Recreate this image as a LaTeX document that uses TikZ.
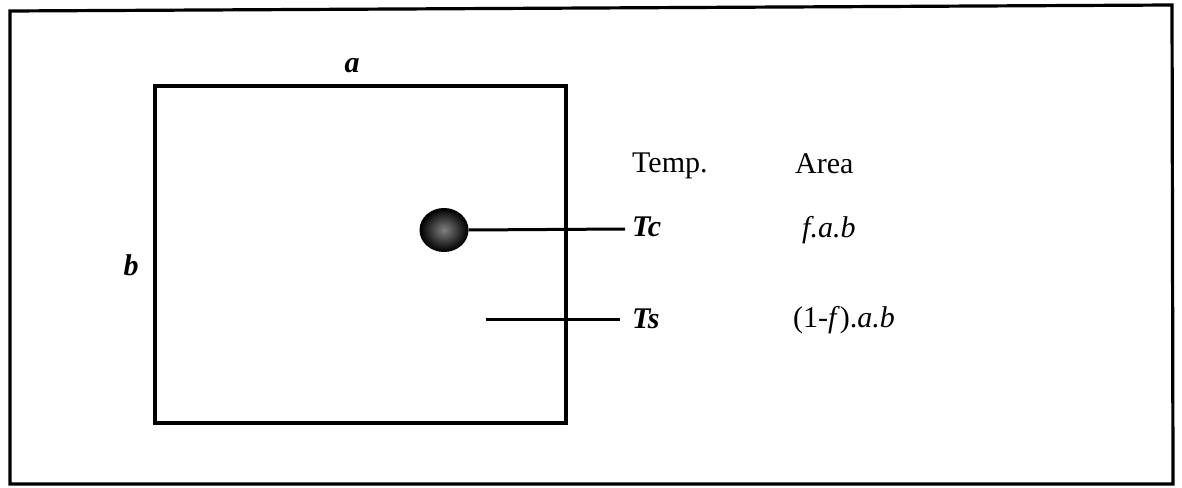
\documentclass[tikz,border=0pt]{standalone}
\usepackage{fontspec}
\setmainfont{Liberation Serif}
\usetikzlibrary{shapes.geometric}
\begin{document}
\begin{tikzpicture}[x=1pt,y=-1pt,
  frame/.style={line width=3.2pt, line join=miter},
  wire/.style={line width=3pt},
  lbl/.style={font=\fontsize{30}{34}\selectfont, inner sep=0pt, anchor=base west},
  ilbl/.style={lbl, font=\fontsize{30}{34}\selectfont\bfseries\itshape},
  hotspot/.style={ellipse, minimum width=48pt, minimum height=43pt, inner sep=0pt, draw=black, line width=1pt,
    inner color=black!50, outer color=black}]
\useasboundingbox (0,0) rectangle (1182,487);
% outer frame
\draw[frame] (10,11) -- (1172,5) -- (1173,484) -- (10,484) -- cycle;
% plate
\draw[frame] (155,86) rectangle (566,423);
\node[ilbl, anchor=base] (la) at (352,72) {a};
\node[ilbl, anchor=base] (lb) at (131,275) {b};
% hot spot
\node[hotspot] (hot) at (444,230) {};
\coordinate (tcend) at (625,229);
\coordinate (tsstart) at (486,319);
\coordinate (tsend) at (620,319);
\draw[wire] (hot.east) -- (tcend);
\draw[wire] (tsstart) -- (tsend);
% labels
\node[lbl] (temp) at (632,172) {Temp.};
\node[lbl] (area) at (795,173) {Area};
\node[ilbl] (tc) at (632,236) {Tc};
\node[ilbl] (ts) at (632,328) {Ts};
\node[lbl, font=\fontsize{30}{34}\selectfont\itshape] (fab) at (802,237) {f.a.b};
\node[lbl] (sab) at (793,327) {(1-\textit{f}).\textit{a.b}};
\end{tikzpicture}
\end{document}
